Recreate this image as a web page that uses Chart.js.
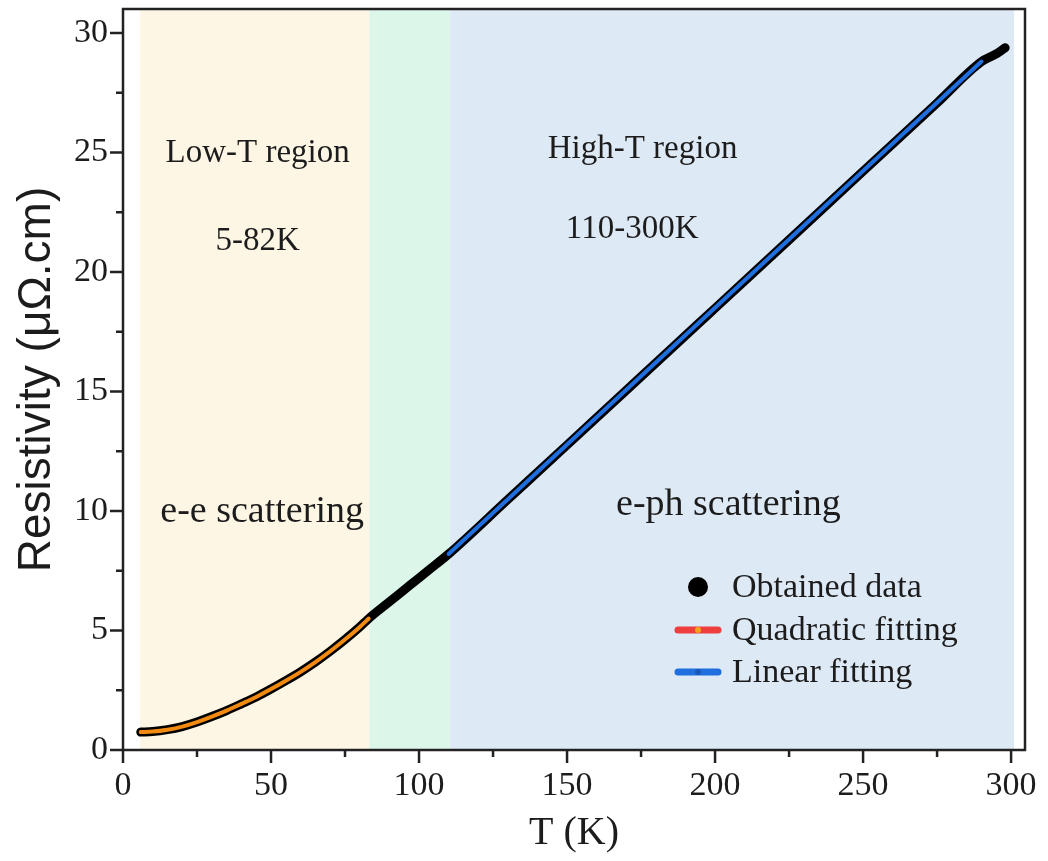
<!DOCTYPE html>
<html>
<head>
<meta charset="utf-8">
<script src="https://cdn.jsdelivr.net/npm/chart.js@4"></script>
<style>
  body { margin: 0; background: #fff; }
  #wrap { width: 1048px; height: 861px; }
</style>
</head>
<body>
<div id="wrap"><canvas id="rhoChart"></canvas></div>
<script>
const dataT   = [6, 10, 15, 20, 25, 30, 35, 40, 45, 50, 55, 60, 65, 70, 75, 80, 83, 90, 97, 103, 110, 130, 150, 175, 195, 200, 225, 250, 275, 290, 295, 298];
const dataRho = [0.75, 0.77, 0.85, 0.98, 1.17, 1.40, 1.65, 1.93, 2.22, 2.55, 2.90, 3.27, 3.68, 4.13, 4.62, 5.15, 5.50, 6.20, 6.90, 7.50, 8.20, 10.48, 12.76, 15.62, 17.91, 18.48, 21.34, 24.21, 27.07, 28.80, 29.12, 29.38];

// quadratic fit (5-82 K)
const quadT   = [6, 10, 15, 20, 25, 30, 35, 40, 45, 50, 55, 60, 65, 70, 75, 80, 83];
const quadRho = [0.75, 0.77, 0.85, 0.98, 1.17, 1.40, 1.65, 1.93, 2.22, 2.55, 2.90, 3.27, 3.68, 4.13, 4.62, 5.15, 5.50];

// linear fit (110-300 K)
const linT   = [110, 200, 290];
const linRho = [8.20, 18.50, 28.80];

const xTicks = [0, 50, 100, 150, 200, 250, 300];
const yTicks = [0, 5, 10, 15, 20, 25, 30];

// shaded temperature regions
const regionStart = [5.8, 83.2, 110.5];
const regionEnd   = [83.2, 110.5, 301];
const regionColor = ["#fef6e4", "#dcf7ea", "#dee9f6"];

const notes = [
  { text: "Low-T region",    x: 45.5,  y: 24.95, size: 33 },
  { text: "5-82K",           x: 45.5,  y: 21.3,  size: 33 },
  { text: "e-e scattering",  x: 47,    y: 9.95,  size: 38 },
  { text: "High-T region",   x: 175.5, y: 25.15, size: 33 },
  { text: "110-300K",        x: 172,   y: 21.8,  size: 33 },
  { text: "e-ph scattering", x: 204.5, y: 10.25, size: 38 },
];

const serif = "'Liberation Serif', 'Times New Roman', serif";
const ink = "#1c1c1c";

const pts = (xs, ys) => xs.map((x, i) => ({ x: x, y: ys[i] }));

const regionsPlugin = {
  id: "regions",
  beforeDatasetsDraw(chart) {
    const { ctx, chartArea, scales } = chart;
    ctx.save();
    regionStart.forEach((s, i) => {
      const x0 = scales.x.getPixelForValue(s);
      const x1 = scales.x.getPixelForValue(regionEnd[i]);
      ctx.fillStyle = regionColor[i];
      ctx.fillRect(x0, chartArea.top, x1 - x0, chartArea.bottom - chartArea.top);
    });
    ctx.fillStyle = ink;
    ctx.textAlign = "center";
    ctx.textBaseline = "middle";
    notes.forEach((n) => {
      ctx.font = n.size + "px " + serif;
      ctx.fillText(n.text, scales.x.getPixelForValue(n.x), scales.y.getPixelForValue(n.y));
    });
    ctx.restore();
  },
};

const frameAndLegend = {
  id: "frameAndLegend",
  afterDraw(chart) {
    const { ctx, chartArea: a, scales } = chart;
    ctx.save();
    // frame
    ctx.strokeStyle = "#222";
    ctx.lineWidth = 2.5;
    ctx.strokeRect(a.left, a.top, a.right - a.left, a.bottom - a.top);
    // ticks, outward
    ctx.beginPath();
    xTicks.forEach((v, i) => {
      let px = scales.x.getPixelForValue(v);
      ctx.moveTo(px, a.bottom); ctx.lineTo(px, a.bottom + 13);
      if (i < xTicks.length - 1) {
        px = scales.x.getPixelForValue(v + 25);
        ctx.moveTo(px, a.bottom); ctx.lineTo(px, a.bottom + 7);
      }
    });
    yTicks.forEach((v, i) => {
      let py = scales.y.getPixelForValue(v);
      ctx.moveTo(a.left, py); ctx.lineTo(a.left - 13, py);
      if (i < yTicks.length - 1) {
        py = scales.y.getPixelForValue(v + 2.5);
        ctx.moveTo(a.left, py); ctx.lineTo(a.left - 7, py);
      }
    });
    ctx.stroke();

    // legend
    const ds = chart.data.datasets;
    const lx = 698, ly = [587, 630, 672];
    ctx.font = "34px " + serif;
    ctx.textAlign = "left";
    ctx.textBaseline = "middle";
    ds.forEach((d, i) => {
      if (i === 0) {
        ctx.fillStyle = "#000";
        ctx.beginPath();
        ctx.arc(lx, ly[i], 10, 0, Math.PI * 2);
        ctx.fill();
      } else {
        ctx.strokeStyle = d.legendLine;
        ctx.lineWidth = 7;
        ctx.lineCap = "round";
        ctx.beginPath();
        ctx.moveTo(lx - 20, ly[i]); ctx.lineTo(lx + 20, ly[i]);
        ctx.stroke();
        ctx.fillStyle = d.legendDot;
        ctx.beginPath();
        ctx.arc(lx, ly[i], 3, 0, Math.PI * 2);
        ctx.fill();
      }
      ctx.fillStyle = ink;
      ctx.fillText(d.label, 732, ly[i] + 1);
    });
    ctx.restore();
  },
};

new Chart(document.getElementById("rhoChart"), {
  type: "line",
  data: {
    datasets: [
      {
        label: "Obtained data",
        data: pts(dataT, dataRho),
        borderColor: "#000",
        borderWidth: 9,
        borderCapStyle: "round",
        borderJoinStyle: "round",
        pointRadius: 0,
        cubicInterpolationMode: "monotone",
        order: 3,
      },
      {
        label: "Quadratic fitting",
        data: pts(quadT, quadRho),
        borderColor: "#f28a10",
        legendLine: "#ee3e3e",
        legendDot: "#f7a01c",
        borderWidth: 4,
        borderCapStyle: "round",
        pointRadius: 0,
        cubicInterpolationMode: "monotone",
        order: 2,
      },
      {
        label: "Linear fitting",
        data: pts(linT, linRho),
        borderColor: "#1f6fdf",
        legendLine: "#1f6fdf",
        legendDot: "#1758b8",
        borderWidth: 4,
        borderCapStyle: "round",
        pointRadius: 0,
        order: 1,
      },
    ],
  },
  options: {
    responsive: true,
    maintainAspectRatio: false,
    animation: false,
    layout: { padding: { top: 9, right: 23, left: 0, bottom: 0 } },
    plugins: { legend: { display: false }, tooltip: { enabled: false } },
    scales: {
      x: {
        type: "linear",
        min: 0,
        max: 304.7,
        afterBuildTicks: (s) => { s.ticks = xTicks.map((v) => ({ value: v })); },
        afterFit: (s) => { s.height = 111; s.paddingLeft = 0; s.paddingRight = 0; },
        grid: { display: false, drawTicks: false },
        border: { display: false },
        ticks: { color: ink, padding: 16, maxRotation: 0, font: { family: serif, size: 34 } },
        title: { display: true, text: "T (K)", color: ink, padding: { bottom: 4 }, font: { family: serif, size: 40 } },
      },
      y: {
        min: 0,
        max: 31,
        afterBuildTicks: (s) => { s.ticks = yTicks.map((v) => ({ value: v })); },
        afterFit: (s) => { s.width = 123; s.paddingTop = 0; s.paddingBottom = 0; },
        grid: { display: false, drawTicks: false },
        border: { display: false },
        ticks: { color: ink, padding: 15, font: { family: serif, size: 34 } },
        title: { display: true, text: "Resistivity (μΩ.cm)", color: ink, padding: { top: 10 }, font: { family: "'Liberation Sans', Arial, sans-serif", size: 46 } },
      },
    },
  },
  plugins: [regionsPlugin, frameAndLegend],
});
</script>
</body>
</html>
